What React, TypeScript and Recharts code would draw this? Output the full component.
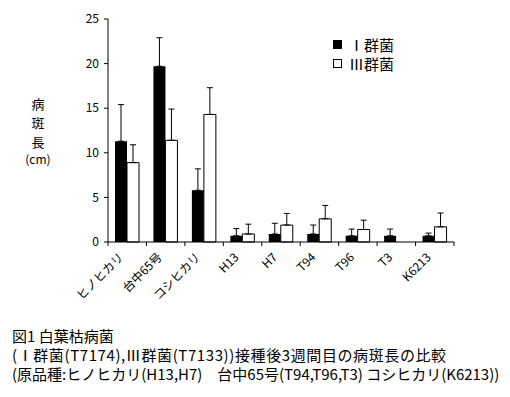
import React from "react"
import {
    BarChart,
    Bar,
    XAxis,
    YAxis,
    ErrorBar,
} from "recharts"

const categories = ["ヒノヒカリ", "台中65号", "コシヒカリ", "H13", "H7", "T94", "T96", "T3", "K6213"]
const group1 = [11.3, 19.7, 5.8, 0.7, 0.9, 0.9, 0.7, 0.7, 0.7]
const group1Err = [4.1, 3.2, 2.4, 0.8, 1.2, 1.0, 0.75, 0.75, 0.3]
const group3 = [8.9, 11.4, 14.3, 0.9, 1.9, 2.6, 1.4, 0, 1.7]
const group3Err = [2.0, 3.5, 3.0, 1.1, 1.3, 1.5, 1.05, 0, 1.55]
const seriesNames = ["Ⅰ群菌", "Ⅲ群菌"]
const yTicks = [0, 5, 10, 15, 20, 25]

const data = categories.map((name, i) => ({
    name,
    g1: group1[i],
    g1Err: [0, group1Err[i]],
    g3: group3[i],
    g3Err: [0, group3Err[i]],
}))

const FONT = "'Noto Sans CJK JP', sans-serif"

// tick marks sit on the category boundaries, labels rotated under the center
const XTick = (props: any) => {
    const { x, y, payload, index, visibleTicksCount } = props
    const half = payload.offset || 0
    const last = index === visibleTicksCount - 1
    return (
        <g>
            <line x1={x - half} x2={x - half} y1={y} y2={y + 4} stroke="#000" />
            {last && <line x1={x + half} x2={x + half} y1={y} y2={y + 4} stroke="#000" />}
            <g transform={`translate(${x - 3},${y + 16}) rotate(-45)`}>
                <text textAnchor="end" fontSize={12} fill="#000" fontFamily={FONT}>
                    {payload.value}
                </text>
            </g>
        </g>
    )
}

const yLabel = ["病", "斑", "長"]

export default function App() {
    return (
        <div style={{ position: "absolute", left: 0, top: 0, width: 510, height: 397, background: "#fff", fontFamily: FONT }}>
            <BarChart
                width={510}
                height={397}
                data={data}
                margin={{ top: 19, right: 56, left: 0, bottom: 0 }}
                barGap={0}
            >
                <XAxis
                    dataKey="name"
                    stroke="#000"
                    tickLine={false}
                    tickSize={0}
                    tickMargin={0}
                    interval={0}
                    tick={<XTick />}
                    height={155}
                />
                <YAxis
                    width={108}
                    domain={[0, 25]}
                    ticks={yTicks}
                    tickSize={4}
                    tickMargin={5}
                    stroke="#000"
                    tick={{ fill: "#000", fontSize: 12, fontFamily: FONT }}
                />
                <Bar dataKey="g1" barSize={12} fill="#000" isAnimationActive={false}>
                    <ErrorBar dataKey="g1Err" width={3} stroke="#000" strokeWidth={1} direction="y" />
                </Bar>
                <Bar dataKey="g3" barSize={12} fill="#fff" stroke="#000" strokeWidth={1} isAnimationActive={false}>
                    <ErrorBar dataKey="g3Err" width={3} stroke="#000" strokeWidth={1} direction="y" />
                </Bar>
            </BarChart>
            <div style={{ position: "absolute", left: 333, top: 35, fontSize: 15, lineHeight: "19px", color: "#000" }}>
                <div style={{ display: "flex", alignItems: "center" }}>
                    <span style={{ width: 9, height: 9, background: "#000", display: "inline-block", marginRight: 7 }} />
                    <span>{seriesNames[0]}</span>
                </div>
                <div style={{ display: "flex", alignItems: "center" }}>
                    <span style={{ width: 7, height: 7, background: "#fff", border: "1px solid #000", display: "inline-block", marginRight: 7 }} />
                    <span>{seriesNames[1]}</span>
                </div>
            </div>
            {yLabel.map((ch, i) => (
                <div key={ch} style={{ position: "absolute", left: 22, top: 97 + i * 19, width: 32, textAlign: "center", fontSize: 13, lineHeight: "13px", color: "#000" }}>
                    {ch}
                </div>
            ))}
            <div style={{ position: "absolute", left: 22, top: 153, width: 32, textAlign: "center", fontSize: 12, lineHeight: "12px", color: "#000" }}>
                (cm)
            </div>
            <div style={{ position: "absolute", left: 12, top: 326, fontSize: 15, lineHeight: "19px", color: "#000", whiteSpace: "nowrap" }}>
                <div>図1 白葉枯病菌</div>
                <div style={{ letterSpacing: 0.6 }}>(Ⅰ群菌(T7174),Ⅲ群菌(T7133))接種後3週間目の病斑長の比較</div>
                <div>(原品種:ヒノヒカリ(H13,H7)　台中65号(T94,T96,T3)  コシヒカリ(K6213))</div>
            </div>
        </div>
    )
}
